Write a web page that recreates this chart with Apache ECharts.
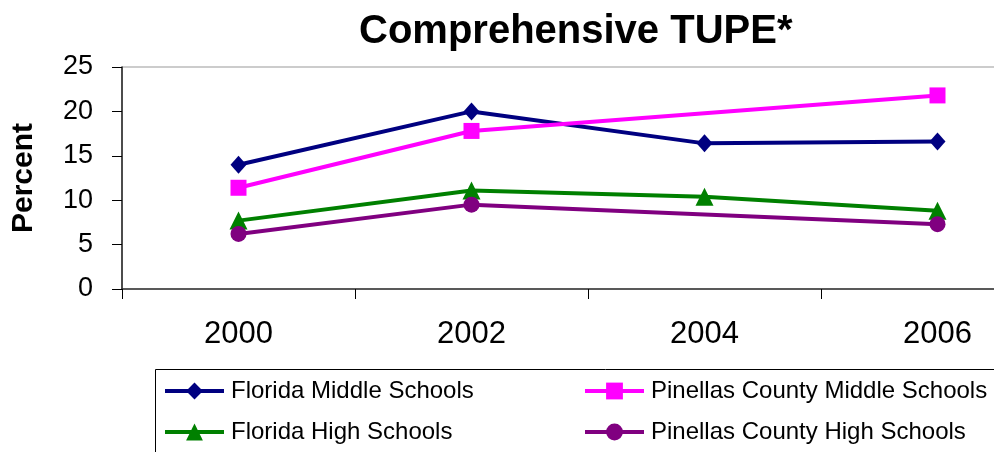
<!DOCTYPE html>
<html>
<head>
<meta charset="utf-8">
<script src="https://cdn.jsdelivr.net/npm/echarts@6/dist/echarts.min.js"></script>
<style>
html,body{margin:0;padding:0;background:#fff;overflow:hidden;width:994px;height:452px;}
#chart{width:1060px;height:452px;}
</style>
</head>
<body>
<div id="chart"></div>
<script>
const titleText = 'Comprehensive TUPE*';
const yAxisName = 'Percent';
const categories = ['2000', '2002', '2004', '2006'];
const floridaMiddle = [14.0, 20.0, 16.4, 16.6];
const pinellasMiddle = [11.4, 17.8, null, 21.8];
const floridaHigh = [7.7, 11.1, 10.4, 8.8];
const pinellasHigh = [6.2, 9.5, null, 7.3];
const seriesNames = ['Florida Middle Schools', 'Pinellas County Middle Schools', 'Florida High Schools', 'Pinellas County High Schools'];

const FONT = '"Liberation Sans", Arial, sans-serif';
const chart = echarts.init(document.getElementById('chart'), null, {renderer: 'canvas', width: 1060, height: 452});

function mkSeries(name, data, color, symbol, size) {
  return {
    name: name, type: 'line', data: data, connectNulls: true,
    symbol: symbol, symbolSize: size, showSymbol: true,
    lineStyle: {color: color, width: 4},
    itemStyle: {color: color},
    emphasis: {disabled: true},
    animation: false
  };
}
function mkLegend(name, left, top) {
  return {
    data: [name], left: left, top: top, padding: 0,
    itemWidth: 59, itemHeight: 21, itemGap: 0,
    lineStyle: {width: 4},
    textStyle: {fontFamily: FONT, fontSize: 24, color: '#000', lineHeight: 24, padding: [0, 0, 0, 2]},
    selectedMode: false
  };
}

chart.setOption({
  backgroundColor: '#fff',
  animation: false,
  title: {
    text: titleText, left: 354, top: 7,
    textStyle: {fontFamily: FONT, fontSize: 40, fontWeight: 'bold', color: '#000', lineHeight: 40}
  },
  grid: {left: 122, top: 67, right: 6, height: 222, show: true, borderColor: '#999', borderWidth: 1, containLabel: false},
  xAxis: {
    type: 'category', data: categories, boundaryGap: true,
    axisLine: {show: true, lineStyle: {color: '#333', width: 1.5}},
    axisTick: {show: true, length: 10, inside: false, lineStyle: {color: '#000'}},
    axisLabel: {fontFamily: FONT, fontSize: 31, color: '#000', margin: 30, lineHeight: 31},
    splitLine: {show: false}
  },
  yAxis: {
    type: 'value', min: 0, max: 25, interval: 5,
    name: yAxisName, nameLocation: 'middle', nameRotate: 90, nameGap: 83,
    nameTextStyle: {fontFamily: FONT, fontSize: 30, fontWeight: 'bold', color: '#000'},
    axisLine: {show: true, lineStyle: {color: '#222', width: 1.5}},
    axisTick: {show: true, length: 10, lineStyle: {color: '#000'}},
    axisLabel: {fontFamily: FONT, fontSize: 27, color: '#000', margin: 29},
    splitLine: {show: false}
  },
  legend: [
    mkLegend(seriesNames[0], 163, 379),
    mkLegend(seriesNames[1], 583, 379),
    mkLegend(seriesNames[2], 163, 420),
    mkLegend(seriesNames[3], 583, 420)
  ],
  graphic: [{
    type: 'rect', shape: {x: 155.5, y: 369.5, width: 900, height: 120},
    style: {fill: null, stroke: '#000', lineWidth: 1}, silent: true
  }],
  series: [
    mkSeries(seriesNames[0], floridaMiddle, '#000080', 'diamond', [16, 18]),
    mkSeries(seriesNames[1], pinellasMiddle, '#FF00FF', 'rect', 16),
    mkSeries(seriesNames[2], floridaHigh, '#008000', 'triangle', 18),
    mkSeries(seriesNames[3], pinellasHigh, '#800080', 'circle', 16)
  ]
});
</script>
</body>
</html>
